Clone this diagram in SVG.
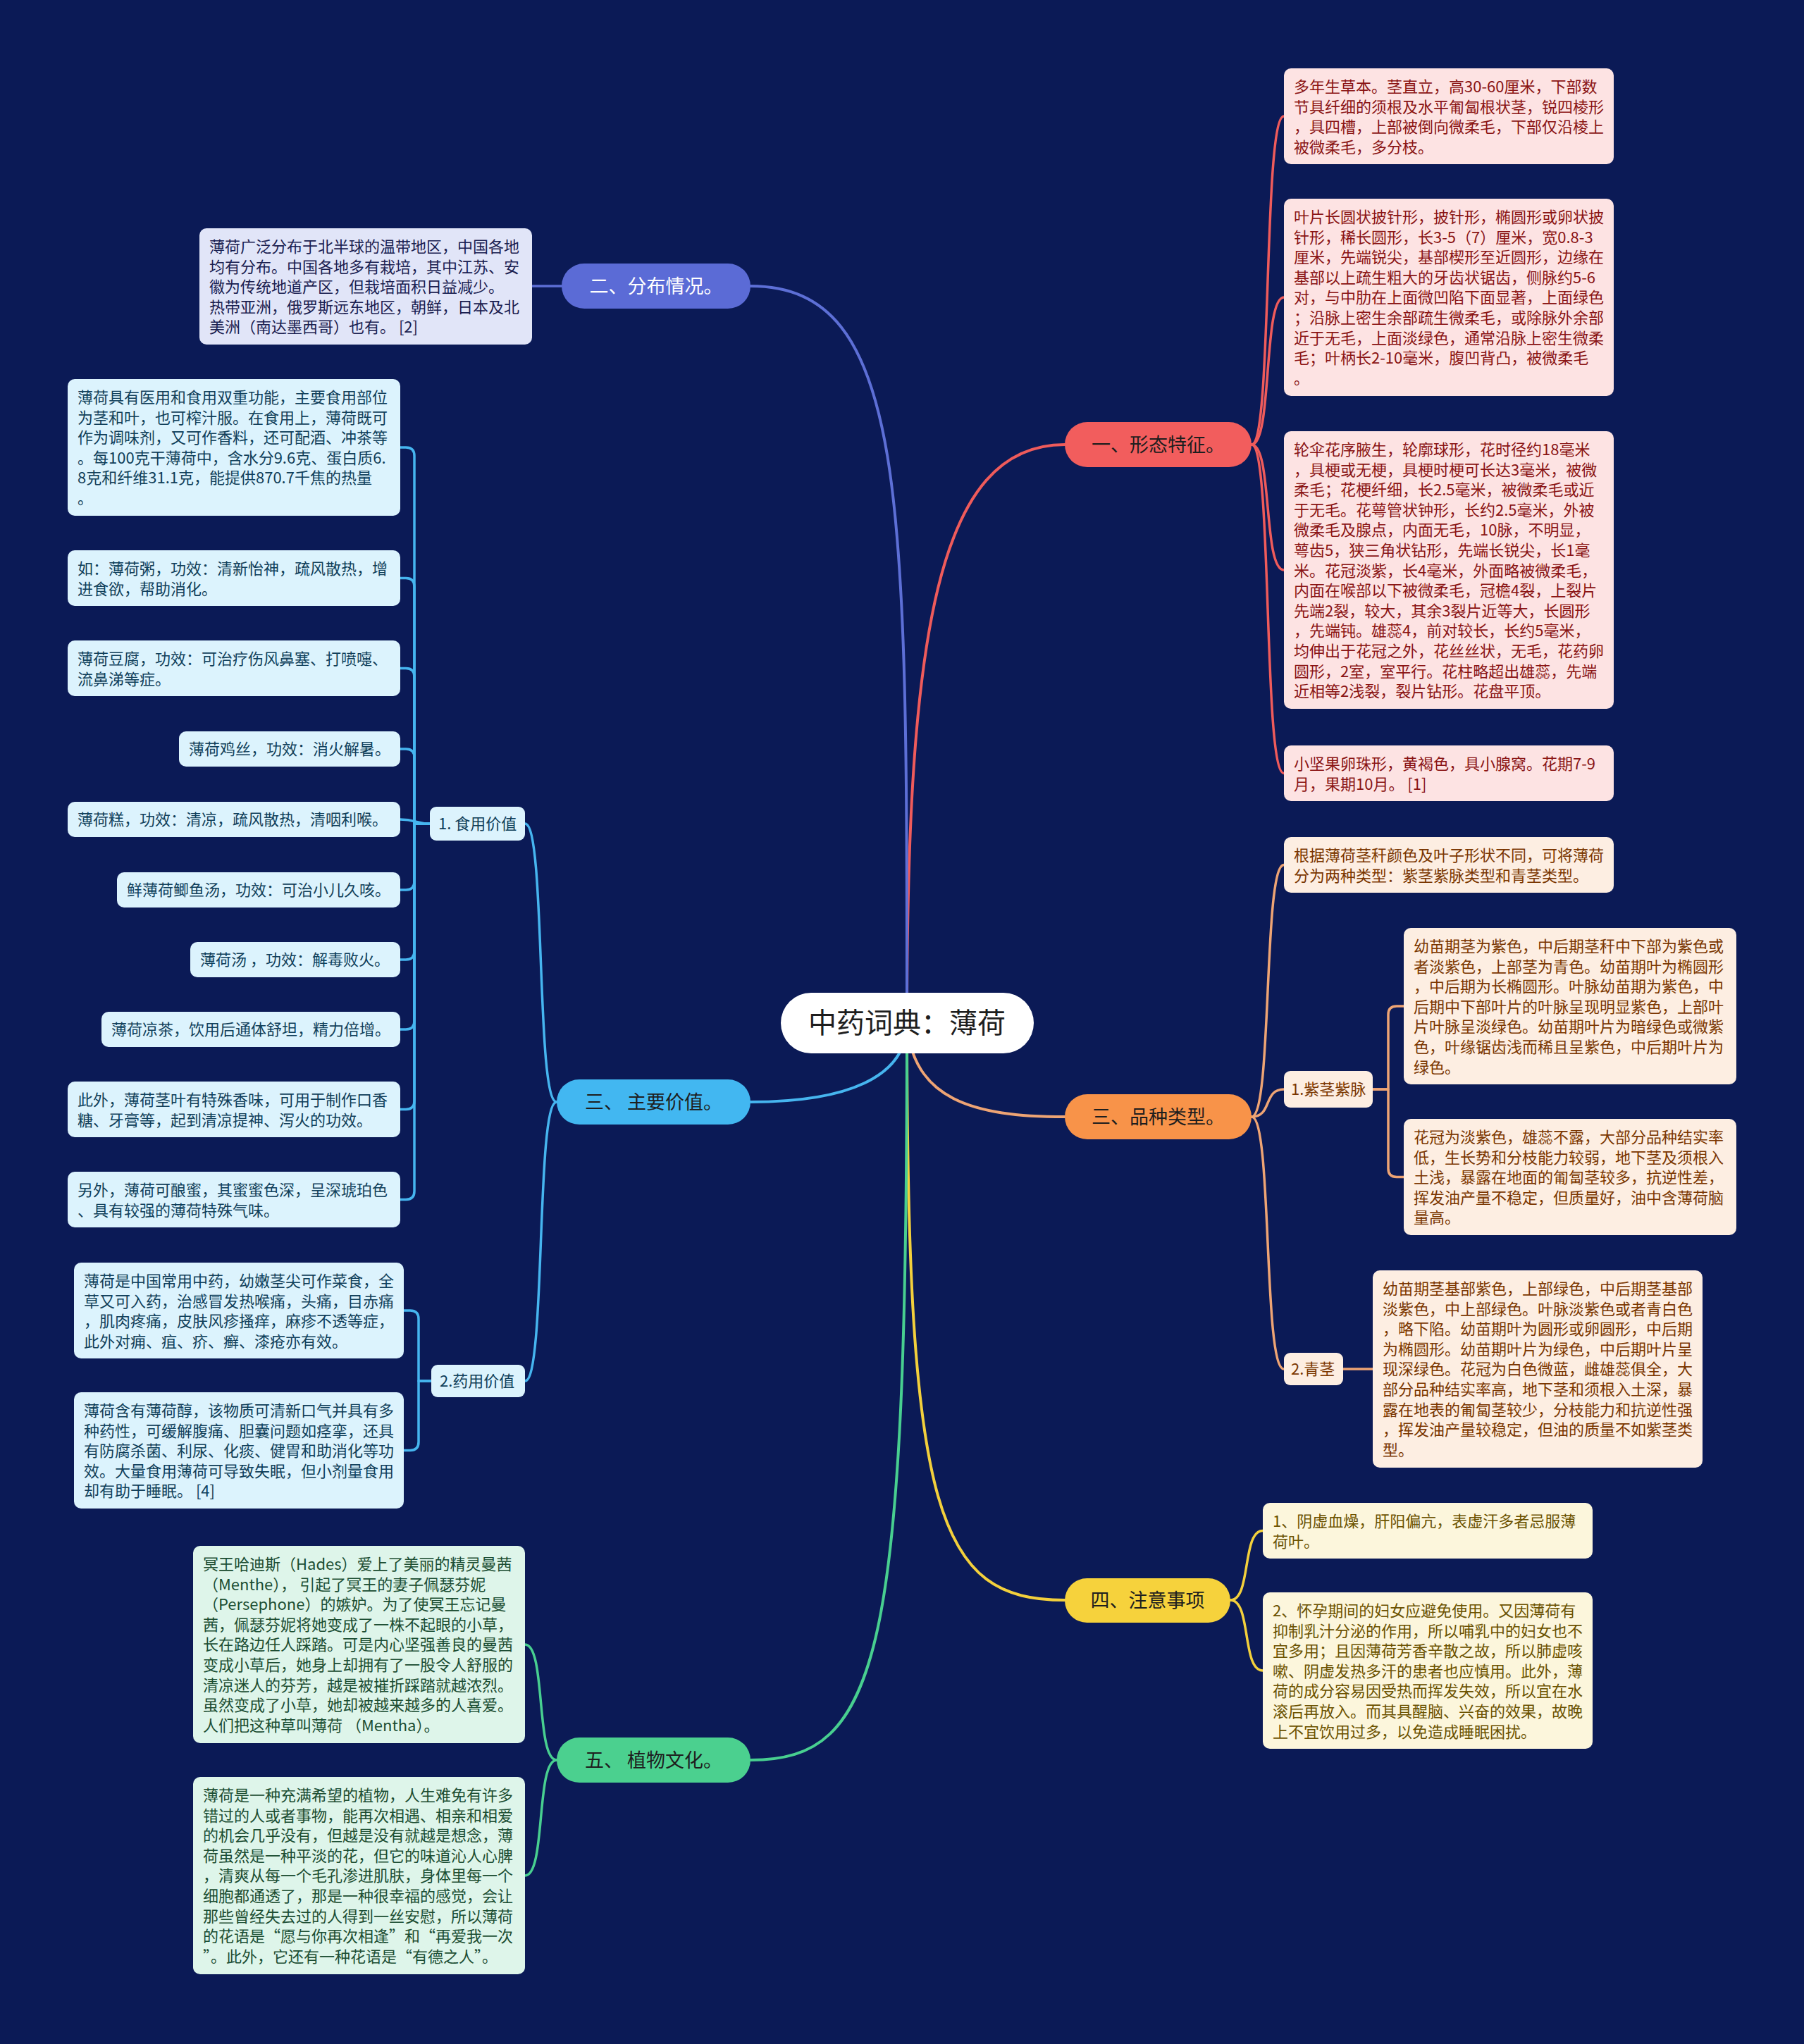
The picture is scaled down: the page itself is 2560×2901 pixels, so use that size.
<svg xmlns="http://www.w3.org/2000/svg" width="2560" height="2901" viewBox="0 0 2560 2901">
<style>
text{font-family:"Noto Sans CJK SC","Noto Sans CJK JP",sans-serif;font-size:22px;white-space:pre}
.c{fill:none;stroke-linecap:round;stroke-linejoin:round}
.main{stroke-width:4}
.sub{stroke-width:3.5}
.pill{font-size:27px;text-anchor:middle;fill:#1e1e1e}
.k-red{stroke:#ef5b5b}.k-pur{stroke:#5d6fd6}.k-blu{stroke:#46b5ef}.k-org{stroke:#eea474}.k-yel{stroke:#f3d03c}.k-grn{stroke:#48cf90}
.b-red{fill:#fde3e3}.t-red{fill:#8a1414}
.b-pur{fill:#e1e5f8}.t-pur{fill:#1a2050}
.b-blu{fill:#dcf3fd}.t-blu{fill:#103f5a}
.b-org{fill:#fdeee2}.t-org{fill:#7a3600}
.b-yel{fill:#fcf6dc}.t-yel{fill:#6b5200}
.b-grn{fill:#def5ea}.t-grn{fill:#1b4d32}
</style>
<rect width="2560" height="2901" fill="#0b1a56"/>
<g id="connectors">
<path class="c main k-red" d="M1287,1452 C1287,900 1330,631 1511,631"/>
<path class="c main k-pur" d="M1287,1452 C1287,700 1287,406 1065,406"/>
<path class="c main k-blu" d="M1287,1452 C1287,1530 1200,1564 1065,1564"/>
<path class="c main k-org" d="M1287,1452 C1295,1560 1380,1585 1511,1585"/>
<path class="c main k-yel" d="M1287,1452 C1287,2150 1330,2271 1511,2271"/>
<path class="c main k-grn" d="M1287,1452 C1287,2350 1250,2498 1065,2498"/>
<path class="c sub k-red" d="M1776,631 C1806,631 1792,165 1822,165"/>
<path class="c sub k-red" d="M1776,631 C1806,631 1792,422 1822,422"/>
<path class="c sub k-red" d="M1776,631 C1806,631 1792,809 1822,809"/>
<path class="c sub k-red" d="M1776,631 C1806,631 1792,1097.5 1822,1097.5"/>
<path class="c sub k-pur" d="M797,406 H755"/>
<path class="c sub k-blu" d="M790,1564 C760,1564 775,1169 745,1169"/>
<path class="c sub k-blu" d="M790,1564 C760,1564 775,1960 745,1960"/>
<path class="c sub k-blu" d="M610,1169 H588 V647 Q588,635 576,635 H568"/>
<path class="c sub k-blu" d="M610,1169 H588 V832.5 Q588,820.5 576,820.5 H568"/>
<path class="c sub k-blu" d="M610,1169 H588 V960.5 Q588,948.5 576,948.5 H568"/>
<path class="c sub k-blu" d="M610,1169 H588 V1075 Q588,1063 576,1063 H568"/>
<path class="c sub k-blu" d="M610,1169 C590,1169 590,1163 568,1163"/>
<path class="c sub k-blu" d="M610,1169 H588 V1251 Q588,1263 576,1263 H568"/>
<path class="c sub k-blu" d="M610,1169 H588 V1350 Q588,1362 576,1362 H568"/>
<path class="c sub k-blu" d="M610,1169 H588 V1449 Q588,1461 576,1461 H568"/>
<path class="c sub k-blu" d="M610,1169 H588 V1562.5 Q588,1574.5 576,1574.5 H568"/>
<path class="c sub k-blu" d="M610,1169 H588 V1690.5 Q588,1702.5 576,1702.5 H568"/>
<path class="c sub k-blu" d="M612,1960 H594 V1872 Q594,1860 582,1860 H573"/>
<path class="c sub k-blu" d="M612,1960 H594 V2046.5 Q594,2058.5 582,2058.5 H573"/>
<path class="c sub k-org" d="M1776,1585 C1806,1585 1792,1227.5 1822,1227.5"/>
<path class="c sub k-org" d="M1776,1585 C1806,1585 1792,1546 1822,1546"/>
<path class="c sub k-org" d="M1776,1585 C1806,1585 1792,1943 1822,1943"/>
<path class="c sub k-org" d="M1948,1546 H1970 V1440 Q1970,1428 1982,1428 H1992"/>
<path class="c sub k-org" d="M1948,1546 H1970 V1658.5 Q1970,1670.5 1982,1670.5 H1992"/>
<path class="c sub k-org" d="M1906,1943 H1948"/>
<path class="c sub k-yel" d="M1746,2271 C1776,2271 1762,2172.5 1792,2172.5"/>
<path class="c sub k-yel" d="M1746,2271 C1776,2271 1762,2371 1792,2371"/>
<path class="c sub k-grn" d="M790,2498 C760,2498 775,2334 745,2334"/>
<path class="c sub k-grn" d="M790,2498 C760,2498 775,2662 745,2662"/>
</g>
<g id="root">
<rect x="1108" y="1409" width="359" height="86" rx="43" fill="#ffffff"/>
<text x="1287" y="1466" style="font-size:40px" text-anchor="middle" fill="#1e1e1e">中药词典：薄荷</text>
</g>
<g id="b1">
<rect x="1511" y="599" width="265" height="64" rx="32" fill="#f25d5d"/>
<text class="pill" x="1643.5" y="641">一、形态特征。</text>
</g>
<g id="b1-1">
<rect class="b-red" x="1822" y="97" width="468" height="136" rx="10"/>
<text class="t-red"><tspan x="1836" y="131">多年生草本。茎直立，高30-60厘米，下部数</tspan><tspan x="1836" y="159.6">节具纤细的须根及水平匍匐根状茎，锐四棱形</tspan><tspan x="1836" y="188.2">，具四槽，上部被倒向微柔毛，下部仅沿棱上</tspan><tspan x="1836" y="216.8">被微柔毛，多分枝。</tspan></text>
</g>
<g id="b1-2">
<rect class="b-red" x="1822" y="282" width="468" height="280" rx="10"/>
<text class="t-red"><tspan x="1836" y="316">叶片长圆状披针形，披针形，椭圆形或卵状披</tspan><tspan x="1836" y="344.6">针形，稀长圆形，长3-5（7）厘米，宽0.8-3</tspan><tspan x="1836" y="373.2">厘米，先端锐尖，基部楔形至近圆形，边缘在</tspan><tspan x="1836" y="401.8">基部以上疏生粗大的牙齿状锯齿，侧脉约5-6</tspan><tspan x="1836" y="430.4">对，与中肋在上面微凹陷下面显著，上面绿色</tspan><tspan x="1836" y="459">；沿脉上密生余部疏生微柔毛，或除脉外余部</tspan><tspan x="1836" y="487.6">近于无毛，上面淡绿色，通常沿脉上密生微柔</tspan><tspan x="1836" y="516.2">毛；叶柄长2-10毫米，腹凹背凸，被微柔毛</tspan><tspan x="1836" y="544.8">。</tspan></text>
</g>
<g id="b1-3">
<rect class="b-red" x="1822" y="612" width="468" height="394" rx="10"/>
<text class="t-red"><tspan x="1836" y="646">轮伞花序腋生，轮廓球形，花时径约18毫米</tspan><tspan x="1836" y="674.6">，具梗或无梗，具梗时梗可长达3毫米，被微</tspan><tspan x="1836" y="703.2">柔毛；花梗纤细，长2.5毫米，被微柔毛或近</tspan><tspan x="1836" y="731.8">于无毛。花萼管状钟形，长约2.5毫米，外被</tspan><tspan x="1836" y="760.4">微柔毛及腺点，内面无毛，10脉，不明显，</tspan><tspan x="1836" y="789">萼齿5，狭三角状钻形，先端长锐尖，长1毫</tspan><tspan x="1836" y="817.6">米。花冠淡紫，长4毫米，外面略被微柔毛，</tspan><tspan x="1836" y="846.2">内面在喉部以下被微柔毛，冠檐4裂，上裂片</tspan><tspan x="1836" y="874.8">先端2裂，较大，其余3裂片近等大，长圆形</tspan><tspan x="1836" y="903.4">，先端钝。雄蕊4，前对较长，长约5毫米，</tspan><tspan x="1836" y="932">均伸出于花冠之外，花丝丝状，无毛，花药卵</tspan><tspan x="1836" y="960.6">圆形，2室，室平行。花柱略超出雄蕊，先端</tspan><tspan x="1836" y="989.2">近相等2浅裂，裂片钻形。花盘平顶。</tspan></text>
</g>
<g id="b1-4">
<rect class="b-red" x="1822" y="1058" width="468" height="79" rx="10"/>
<text class="t-red"><tspan x="1836" y="1092">小坚果卵珠形，黄褐色，具小腺窝。花期7-9</tspan><tspan x="1836" y="1120.6">月，果期10月。 [1]</tspan></text>
</g>
<g id="b2">
<rect x="797" y="374" width="268" height="64" rx="32" fill="#5b6bd6"/>
<text class="pill" x="931" y="416" style="fill:#ffffff">二、分布情况。</text>
</g>
<g id="b2-1">
<rect class="b-pur" x="283" y="324" width="472" height="165" rx="10"/>
<text class="t-pur"><tspan x="297" y="358">薄荷广泛分布于北半球的温带地区，中国各地</tspan><tspan x="297" y="386.6">均有分布。中国各地多有栽培，其中江苏、安</tspan><tspan x="297" y="415.2">徽为传统地道产区，但栽培面积日益减少。</tspan><tspan x="297" y="443.8">热带亚洲，俄罗斯远东地区，朝鲜，日本及北</tspan><tspan x="297" y="472.4">美洲（南达墨西哥）也有。 [2]</tspan></text>
</g>
<g id="b3">
<rect x="790" y="1532" width="275" height="64" rx="32" fill="#42b7f1"/>
<text class="pill" x="927.5" y="1574">三、 主要价值。</text>
</g>
<g id="b3-1">
<rect class="b-blu" x="610" y="1145" width="135" height="48" rx="9"/>
<text class="t-blu" x="622" y="1177">1. 食用价值</text>
</g>
<g id="b3-1-1">
<rect class="b-blu" x="96" y="538" width="472" height="194" rx="10"/>
<text class="t-blu"><tspan x="110" y="572">薄荷具有医用和食用双重功能，主要食用部位</tspan><tspan x="110" y="600.6">为茎和叶，也可榨汁服。在食用上，薄荷既可</tspan><tspan x="110" y="629.2">作为调味剂，又可作香料，还可配酒、冲茶等</tspan><tspan x="110" y="657.8">。每100克干薄荷中，含水分9.6克、蛋白质6.</tspan><tspan x="110" y="686.4">8克和纤维31.1克，能提供870.7千焦的热量</tspan><tspan x="110" y="715">。</tspan></text>
</g>
<g id="b3-1-2">
<rect class="b-blu" x="96" y="781" width="472" height="79" rx="10"/>
<text class="t-blu"><tspan x="110" y="815">如：薄荷粥，功效：清新怡神，疏风散热，增</tspan><tspan x="110" y="843.6">进食欲，帮助消化。</tspan></text>
</g>
<g id="b3-1-3">
<rect class="b-blu" x="96" y="909" width="472" height="79" rx="10"/>
<text class="t-blu"><tspan x="110" y="943">薄荷豆腐，功效：可治疗伤风鼻塞、打喷嚏、</tspan><tspan x="110" y="971.6">流鼻涕等症。</tspan></text>
</g>
<g id="b3-1-4">
<rect class="b-blu" x="254" y="1038" width="314" height="50" rx="10"/>
<text class="t-blu" x="268" y="1071">薄荷鸡丝，功效：消火解暑。</text>
</g>
<g id="b3-1-5">
<rect class="b-blu" x="96" y="1138" width="472" height="50" rx="10"/>
<text class="t-blu" x="110" y="1171">薄荷糕，功效：清凉，疏风散热，清咽利喉。</text>
</g>
<g id="b3-1-6">
<rect class="b-blu" x="166" y="1238" width="402" height="50" rx="10"/>
<text class="t-blu" x="180" y="1271">鲜薄荷鲫鱼汤，功效：可治小儿久咳。</text>
</g>
<g id="b3-1-7">
<rect class="b-blu" x="270" y="1337" width="298" height="50" rx="10"/>
<text class="t-blu" x="284" y="1370">薄荷汤 ，功效：解毒败火。</text>
</g>
<g id="b3-1-8">
<rect class="b-blu" x="144" y="1436" width="424" height="50" rx="10"/>
<text class="t-blu" x="158" y="1469">薄荷凉茶，饮用后通体舒坦，精力倍增。</text>
</g>
<g id="b3-1-9">
<rect class="b-blu" x="96" y="1535" width="472" height="79" rx="10"/>
<text class="t-blu"><tspan x="110" y="1569">此外，薄荷茎叶有特殊香味，可用于制作口香</tspan><tspan x="110" y="1597.6">糖、牙膏等，起到清凉提神、泻火的功效。</tspan></text>
</g>
<g id="b3-1-10">
<rect class="b-blu" x="96" y="1663" width="472" height="79" rx="10"/>
<text class="t-blu"><tspan x="110" y="1697">另外，薄荷可酿蜜，其蜜蜜色深，呈深琥珀色</tspan><tspan x="110" y="1725.6">、具有较强的薄荷特殊气味。</tspan></text>
</g>
<g id="b3-2">
<rect class="b-blu" x="612" y="1937" width="133" height="46" rx="9"/>
<text class="t-blu" x="624" y="1968">2.药用价值</text>
</g>
<g id="b3-2-1">
<rect class="b-blu" x="105" y="1792" width="468" height="136" rx="10"/>
<text class="t-blu"><tspan x="119" y="1826">薄荷是中国常用中药，幼嫩茎尖可作菜食，全</tspan><tspan x="119" y="1854.6">草又可入药，治感冒发热喉痛，头痛，目赤痛</tspan><tspan x="119" y="1883.2">，肌肉疼痛，皮肤风疹搔痒，麻疹不透等症，</tspan><tspan x="119" y="1911.8">此外对痈、疽、疥、癣、漆疮亦有效。</tspan></text>
</g>
<g id="b3-2-2">
<rect class="b-blu" x="105" y="1976" width="468" height="165" rx="10"/>
<text class="t-blu"><tspan x="119" y="2010">薄荷含有薄荷醇，该物质可清新口气并具有多</tspan><tspan x="119" y="2038.6">种药性，可缓解腹痛、胆囊问题如痉挛，还具</tspan><tspan x="119" y="2067.2">有防腐杀菌、利尿、化痰、健胃和助消化等功</tspan><tspan x="119" y="2095.8">效。大量食用薄荷可导致失眠，但小剂量食用</tspan><tspan x="119" y="2124.4">却有助于睡眠。 [4]</tspan></text>
</g>
<g id="b4">
<rect x="1511" y="1553" width="265" height="64" rx="32" fill="#f89349"/>
<text class="pill" x="1643.5" y="1595">三、品种类型。</text>
</g>
<g id="b4-1">
<rect class="b-org" x="1822" y="1188" width="468" height="79" rx="10"/>
<text class="t-org"><tspan x="1836" y="1222">根据薄荷茎秆颜色及叶子形状不同，可将薄荷</tspan><tspan x="1836" y="1250.6">分为两种类型：紫茎紫脉类型和青茎类型。</tspan></text>
</g>
<g id="b4-2">
<rect class="b-org" x="1822" y="1520" width="126" height="52" rx="9"/>
<text class="t-org" x="1832" y="1554">1.紫茎紫脉</text>
</g>
<g id="b4-2-1">
<rect class="b-org" x="1992" y="1317" width="472" height="222" rx="10"/>
<text class="t-org"><tspan x="2006" y="1351">幼苗期茎为紫色，中后期茎秆中下部为紫色或</tspan><tspan x="2006" y="1379.6">者淡紫色，上部茎为青色。幼苗期叶为椭圆形</tspan><tspan x="2006" y="1408.2">，中后期为长椭圆形。叶脉幼苗期为紫色，中</tspan><tspan x="2006" y="1436.8">后期中下部叶片的叶脉呈现明显紫色，上部叶</tspan><tspan x="2006" y="1465.4">片叶脉呈淡绿色。幼苗期叶片为暗绿色或微紫</tspan><tspan x="2006" y="1494">色，叶缘锯齿浅而稀且呈紫色，中后期叶片为</tspan><tspan x="2006" y="1522.6">绿色。</tspan></text>
</g>
<g id="b4-2-2">
<rect class="b-org" x="1992" y="1588" width="472" height="165" rx="10"/>
<text class="t-org"><tspan x="2006" y="1622">花冠为淡紫色，雄蕊不露，大部分品种结实率</tspan><tspan x="2006" y="1650.6">低，生长势和分枝能力较弱，地下茎及须根入</tspan><tspan x="2006" y="1679.2">土浅，暴露在地面的匍匐茎较多，抗逆性差，</tspan><tspan x="2006" y="1707.8">挥发油产量不稳定，但质量好，油中含薄荷脑</tspan><tspan x="2006" y="1736.4">量高。</tspan></text>
</g>
<g id="b4-3">
<rect class="b-org" x="1822" y="1920" width="84" height="46" rx="9"/>
<text class="t-org" x="1832" y="1951">2.青茎</text>
</g>
<g id="b4-3-1">
<rect class="b-org" x="1948" y="1803" width="468" height="280" rx="10"/>
<text class="t-org"><tspan x="1962" y="1837">幼苗期茎基部紫色，上部绿色，中后期茎基部</tspan><tspan x="1962" y="1865.6">淡紫色，中上部绿色。叶脉淡紫色或者青白色</tspan><tspan x="1962" y="1894.2">，略下陷。幼苗期叶为圆形或卵圆形，中后期</tspan><tspan x="1962" y="1922.8">为椭圆形。幼苗期叶片为绿色，中后期叶片呈</tspan><tspan x="1962" y="1951.4">现深绿色。花冠为白色微蓝，雌雄蕊俱全，大</tspan><tspan x="1962" y="1980">部分品种结实率高，地下茎和须根入土深，暴</tspan><tspan x="1962" y="2008.6">露在地表的匍匐茎较少，分枝能力和抗逆性强</tspan><tspan x="1962" y="2037.2">，挥发油产量较稳定，但油的质量不如紫茎类</tspan><tspan x="1962" y="2065.8">型。</tspan></text>
</g>
<g id="b5">
<rect x="1511" y="2240" width="235" height="63" rx="31.5" fill="#f6d23c"/>
<text class="pill" x="1628.5" y="2281">四、注意事项</text>
</g>
<g id="b5-1">
<rect class="b-yel" x="1792" y="2133" width="468" height="79" rx="10"/>
<text class="t-yel"><tspan x="1806" y="2167">1、阴虚血燥，肝阳偏亢，表虚汗多者忌服薄</tspan><tspan x="1806" y="2195.6">荷叶。</tspan></text>
</g>
<g id="b5-2">
<rect class="b-yel" x="1792" y="2260" width="468" height="222" rx="10"/>
<text class="t-yel"><tspan x="1806" y="2294">2、怀孕期间的妇女应避免使用。又因薄荷有</tspan><tspan x="1806" y="2322.6">抑制乳汁分泌的作用，所以哺乳中的妇女也不</tspan><tspan x="1806" y="2351.2">宜多用；且因薄荷芳香辛散之故，所以肺虚咳</tspan><tspan x="1806" y="2379.8">嗽、阴虚发热多汗的患者也应慎用。此外，薄</tspan><tspan x="1806" y="2408.4">荷的成分容易因受热而挥发失效，所以宜在水</tspan><tspan x="1806" y="2437">滚后再放入。而其具醒脑、兴奋的效果，故晚</tspan><tspan x="1806" y="2465.6">上不宜饮用过多，以免造成睡眠困扰。</tspan></text>
</g>
<g id="b6">
<rect x="790" y="2466" width="275" height="64" rx="32" fill="#4bd08f"/>
<text class="pill" x="927.5" y="2508">五、 植物文化。</text>
</g>
<g id="b6-1">
<rect class="b-grn" x="274" y="2194" width="471" height="280" rx="10"/>
<text class="t-grn"><tspan x="288" y="2228">冥王哈迪斯（Hades）爱上了美丽的精灵曼茜</tspan><tspan x="288" y="2256.6">（Menthe）， 引起了冥王的妻子佩瑟芬妮</tspan><tspan x="288" y="2285.2">（Persephone）的嫉妒。为了使冥王忘记曼</tspan><tspan x="288" y="2313.8">茜，佩瑟芬妮将她变成了一株不起眼的小草，</tspan><tspan x="288" y="2342.4">长在路边任人踩踏。可是内心坚强善良的曼茜</tspan><tspan x="288" y="2371">变成小草后，她身上却拥有了一股令人舒服的</tspan><tspan x="288" y="2399.6">清凉迷人的芬芳，越是被摧折踩踏就越浓烈。</tspan><tspan x="288" y="2428.2">虽然变成了小草，她却被越来越多的人喜爱。</tspan><tspan x="288" y="2456.8">人们把这种草叫薄荷 （Mentha）。</tspan></text>
</g>
<g id="b6-2">
<rect class="b-grn" x="274" y="2522" width="471" height="280" rx="10"/>
<text class="t-grn"><tspan x="288" y="2556">薄荷是一种充满希望的植物，人生难免有许多</tspan><tspan x="288" y="2584.6">错过的人或者事物，能再次相遇、相亲和相爱</tspan><tspan x="288" y="2613.2">的机会几乎没有，但越是没有就越是想念，薄</tspan><tspan x="288" y="2641.8">荷虽然是一种平淡的花，但它的味道沁人心脾</tspan><tspan x="288" y="2670.4">，清爽从每一个毛孔渗进肌肤，身体里每一个</tspan><tspan x="288" y="2699">细胞都通透了，那是一种很幸福的感觉，会让</tspan><tspan x="288" y="2727.6">那些曾经失去过的人得到一丝安慰，所以薄荷</tspan><tspan x="288" y="2756.2">的花语是“愿与你再次相逢”和“再爱我一次</tspan><tspan x="288" y="2784.8">”。此外，它还有一种花语是“有德之人”。</tspan></text>
</g>
</svg>
